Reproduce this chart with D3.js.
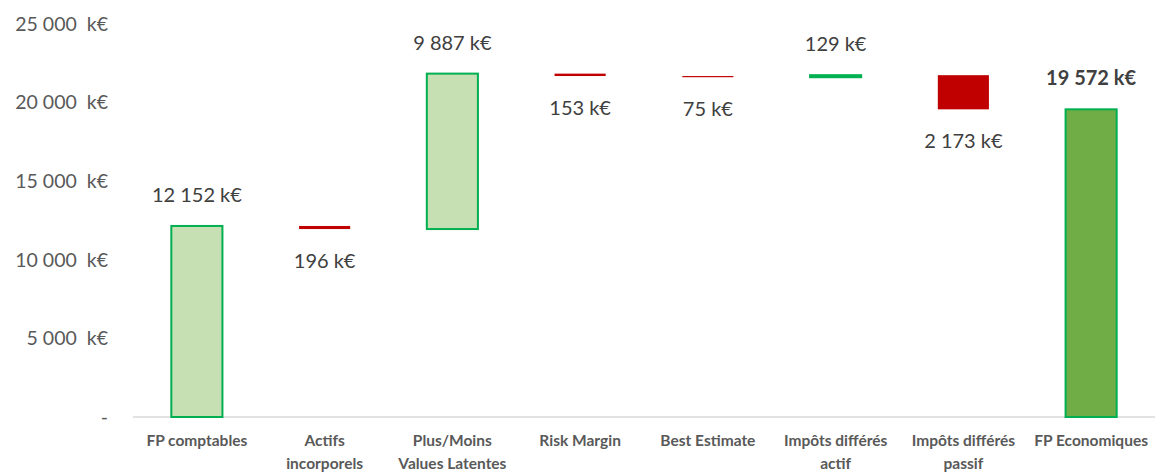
<!DOCTYPE html>
<html>
<head>
<meta charset="utf-8">
<script src="https://cdn.jsdelivr.net/npm/d3@7"></script>
<style>
  body { margin: 0; background: #fff; }
  svg { display: block; font-family: Lato, "Open Sans", sans-serif; }
</style>
</head>
<body>
<svg></svg>
<script>
// Data
const categories = [
  "FP comptables", "Actifs\nincorporels", "Plus/Moins\nValues Latentes", "Risk Margin",
  "Best Estimate", "Impôts différés\nactif", "Impôts différés\npassif", "FP Economiques"
];
const values = [12152, -196, 9887, -153, -75, 129, -2173, 19572];
const kinds = ["total", "delta", "delta", "delta", "delta", "delta", "delta", "total"];
const yTicks = [0, 5000, 10000, 15000, 20000, 25000];

// Build waterfall steps
let running = 0;
const steps = values.map((v, i) => {
  let lo, hi;
  if (kinds[i] === "total") {
    lo = 0; hi = v; running = v;
  } else {
    lo = Math.min(running, running + v);
    hi = Math.max(running, running + v);
    running += v;
  }
  return { cat: categories[i], value: v, kind: kinds[i], lo, hi };
});

const width = 1155, height = 473;
const svg = d3.select("svg").attr("width", width).attr("height", height);

const fr = d3.formatLocale({ decimal: ",", thousands: "\u00a0", grouping: [3], currency: ["", ""] });
const fmt = fr.format(",d");

// Scales
const x = d3.scaleBand()
  .domain(categories)
  .range([133, 1155])
  .paddingInner(0.6)
  .paddingOuter(0.3);

const y = d3.scaleLinear()
  .domain([0, 25000])
  .range([417, 24]);

// Y axis labels
const yAxis = svg.append("g")
  .attr("transform", "translate(108,0)")
  .call(d3.axisLeft(y).tickValues(yTicks).tickSize(0).tickPadding(0)
    .tickFormat(d => d === 0 ? "-" : fmt(d) + "\u00a0\u00a0k€"));
yAxis.select(".domain").remove();
yAxis.selectAll("text")
  .attr("fill", "#595959")
  .style("font-size", "19.5px")
  .style("font-family", "Lato, sans-serif");

// Baseline
svg.append("line")
  .attr("x1", 133).attr("x2", 1155)
  .attr("y1", y(0)).attr("y2", y(0))
  .attr("stroke", "#d9d9d9").attr("stroke-width", 1.5);

// Bars
svg.append("g").selectAll("rect")
  .data(steps)
  .join("rect")
    .attr("x", d => x(d.cat))
    .attr("width", x.bandwidth())
    .attr("y", d => y(d.hi))
    .attr("height", d => y(d.lo) - y(d.hi))
    .attr("fill", d => d.kind === "total" && d.cat === categories[categories.length - 1] ? "#70AD47"
      : d.value >= 0 ? "#C6E0B4" : "#C00000")
    .attr("stroke", d => d.value >= 0 ? "#00B050" : "none")
    .attr("stroke-width", 2);

// Value labels
svg.append("g").selectAll("text")
  .data(steps)
  .join("text")
    .attr("x", d => x(d.cat) + x.bandwidth() / 2)
    .attr("y", d => d.value >= 0 ? y(d.hi) - 31 : y(d.lo) + 32)
    .attr("dy", "0.35em")
    .attr("text-anchor", "middle")
    .attr("fill", "#404040")
    .style("font-size", "20px")
    .style("font-weight", (d, i) => i === steps.length - 1 ? "bold" : "normal")
    .text(d => fmt(Math.abs(d.value)) + " k€");

// Category labels
const catG = svg.append("g").selectAll("text")
  .data(categories)
  .join("text")
    .attr("x", d => x(d) + x.bandwidth() / 2)
    .attr("y", 441)
    .attr("dy", "0.35em")
    .attr("text-anchor", "middle")
    .attr("fill", "#595959")
    .style("font-size", "15.5px")
    .style("font-weight", "bold");

catG.selectAll("tspan")
  .data(d => d.split("\n"))
  .join("tspan")
    .attr("x", function () { return this.parentNode.getAttribute("x"); })
    .attr("dy", (d, i) => i === 0 ? "0.35em" : "1.45em")
    .text(d => d);
</script>
</body>
</html>
